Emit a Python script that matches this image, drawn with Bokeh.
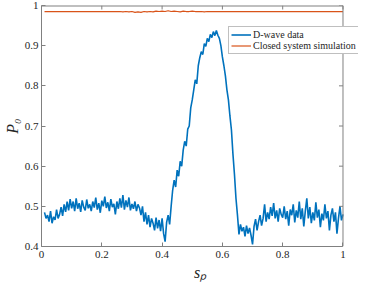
import numpy as np
from bokeh.plotting import figure
from bokeh.models import (ColumnDataSource, FixedTicker, Range1d,
                          Legend, LegendItem)
from bokeh.embed import file_html
from bokeh.resources import INLINE

# ---------------- data ----------------
s_start = 0.01
s_step = 0.005
dwave_p = [
    # 0.010 - 0.100
    0.485, 0.470, 0.478, 0.462, 0.488, 0.458, 0.474, 0.466, 0.492, 0.470,
    0.480, 0.498, 0.476, 0.505, 0.486, 0.512, 0.490, 0.518, 0.495,
    # 0.105 - 0.300
    0.512, 0.488, 0.520, 0.494, 0.508, 0.486, 0.515, 0.498, 0.490, 0.517,
    0.495, 0.505, 0.488, 0.512, 0.497, 0.522, 0.492, 0.508, 0.484, 0.514,
    0.500, 0.524, 0.496, 0.510, 0.488, 0.518, 0.498, 0.506, 0.480, 0.512,
    0.494, 0.520, 0.497, 0.528, 0.492, 0.515, 0.498, 0.522, 0.490, 0.506,
    # 0.305 - 0.415
    0.494, 0.512, 0.488, 0.505, 0.496, 0.478, 0.500, 0.462, 0.485, 0.455,
    0.478, 0.448, 0.470, 0.458, 0.440, 0.472, 0.445, 0.466, 0.438, 0.470,
    0.432, 0.412, 0.460,
    # 0.420 - 0.590
    0.478, 0.455, 0.500, 0.540, 0.565, 0.548, 0.590, 0.575, 0.612, 0.600,
    0.640, 0.662, 0.650, 0.692, 0.700, 0.745, 0.765, 0.790, 0.815, 0.805,
    0.850, 0.870, 0.885, 0.878, 0.905, 0.898, 0.918, 0.910, 0.928, 0.920,
    0.935, 0.925, 0.938, 0.926, 0.918,
    # 0.595 - 1.000
    0.900, 0.872, 0.850, 0.825, 0.790, 0.765, 0.725, 0.690, 0.630, 0.580,
    0.520, 0.478, 0.430, 0.455, 0.438, 0.448, 0.425, 0.452, 0.432, 0.446,
    0.428, 0.405, 0.450, 0.468, 0.440, 0.462, 0.478, 0.452, 0.470, 0.505,
    0.462, 0.485, 0.468, 0.498, 0.476, 0.508, 0.470, 0.490, 0.462, 0.495,
    0.480, 0.472, 0.500, 0.468, 0.488, 0.452, 0.492, 0.478, 0.505, 0.460,
    0.490, 0.472, 0.512, 0.468, 0.495, 0.450, 0.488, 0.520, 0.470, 0.498,
    0.458, 0.485, 0.465, 0.510, 0.472, 0.492, 0.448, 0.482, 0.465, 0.505,
    0.470, 0.488, 0.440, 0.478, 0.495, 0.462, 0.485, 0.432, 0.470, 0.500,
    0.465, 0.480,
]
dwave_s = [round(s_start + s_step * i, 3) for i in range(len(dwave_p))]

sim_step = 0.01
sim_p = (
    [0.985] * 25 +
    [0.985, 0.984, 0.985, 0.984, 0.985, 0.983, 0.984, 0.983, 0.985, 0.984,
     0.985, 0.984, 0.986, 0.985, 0.986, 0.985, 0.987, 0.985, 0.986, 0.985,
     0.984, 0.986, 0.985, 0.985, 0.986, 0.985, 0.985, 0.985, 0.984, 0.985] +
    [0.985] * 45
)
sim_s = [round(s_start + sim_step * i, 3) for i in range(len(sim_p))]

x_ticks = [0, 0.2, 0.4, 0.6, 0.8, 1]
y_ticks = [0.4, 0.5, 0.6, 0.7, 0.8, 0.9, 1]
x_min, x_max = 0, 1
y_min, y_max = 0.4, 1.0
series_names = ["D-wave data", "Closed system simulation"]
colors = ["#0072BD", "#D95319"]

# ---------------- figure ----------------
FONT = "Liberation Serif"
AX = "#808080"
TXT = "#262626"

W, H = 358, 284
ML, MR, MT, MB = 31, 0, 5, 38
# frame spans ML..W-MR; x=1 sits 311 px right of the frame's left edge
frame_w = W - ML - MR
x_end = x_min + (x_max - x_min) * frame_w / 311.0

p = figure(width=W, height=H, output_backend="svg", toolbar_location=None,
           x_range=Range1d(x_min, x_end), y_range=Range1d(y_min, y_max),
           min_border_left=ML, min_border_right=MR, min_border_top=MT,
           min_border_bottom=MB)
p.xgrid.visible = False
p.ygrid.visible = False
p.outline_line_color = None
p.background_fill_color = "white"
p.border_fill_color = "white"

src_d = ColumnDataSource(dict(s=dwave_s, p=dwave_p))
src_s = ColumnDataSource(dict(s=sim_s, p=sim_p))
r1 = p.line("s", "p", source=src_d, line_color=colors[0], line_width=1.6)
r2 = p.line("s", "p", source=src_s, line_color=colors[1], line_width=1.2)

def style_axis(ax, ticks):
    ax.ticker = FixedTicker(ticks=ticks)
    ax.axis_line_color = AX
    ax.major_tick_line_color = AX
    ax.major_tick_in = 4
    ax.major_tick_out = 0
    ax.minor_tick_line_color = None
    ax.major_label_text_font = FONT
    ax.major_label_text_font_size = "11px"
    ax.major_label_text_color = TXT

xa = p.xaxis[0]
style_axis(xa, x_ticks)
xa.bounds = (x_min, x_max)
xa.major_label_overrides = {0: "0", 1: "1"}
xa.major_label_standoff = 4
xa.axis_label = "s\u209a"
xa.axis_label_text_font = FONT
xa.axis_label_text_font_style = "italic"
xa.axis_label_text_font_size = "16px"
xa.axis_label_text_color = TXT
xa.axis_label_standoff = 3

ya = p.yaxis[0]
style_axis(ya, y_ticks)
ya.major_label_overrides = {1: "1"}
ya.major_label_standoff = 3
ya.axis_label = "P\u2080"
ya.axis_label_text_font = FONT
ya.axis_label_text_font_style = "italic"
ya.axis_label_text_font_size = "16px"
ya.axis_label_text_color = TXT
ya.axis_label_standoff = 1

# top and right box edges with inward ticks
p.segment(x0=[x_min], y0=[y_max], x1=[x_max], y1=[y_max],
          line_color=AX, line_width=2)
p.segment(x0=[x_max], y0=[y_min], x1=[x_max], y1=[y_max],
          line_color=AX, line_width=1)
p.ray(x=x_ticks, y=[y_max] * len(x_ticks), length=4, length_units="screen",
      angle=-np.pi / 2, line_color=AX, line_width=1)
p.ray(x=[x_max] * len(y_ticks), y=y_ticks, length=4, length_units="screen",
      angle=np.pi, line_color=AX, line_width=1)

legend = Legend(items=[LegendItem(label=series_names[0], renderers=[r1]),
                       LegendItem(label=series_names[1], renderers=[r2])],
                location=(187, 192))
legend.label_text_font = FONT
legend.label_text_font_size = "10px"
legend.label_text_color = TXT
legend.label_standoff = 2
legend.label_height = 11
legend.glyph_width = 20
legend.glyph_height = 11
legend.spacing = 0
legend.padding = 2
legend.margin = 0
legend.border_line_color = AX
legend.border_line_width = 1
legend.background_fill_color = "white"
legend.background_fill_alpha = 1
p.add_layout(legend, "center")

open("out.html", "w").write(file_html(p, INLINE))
